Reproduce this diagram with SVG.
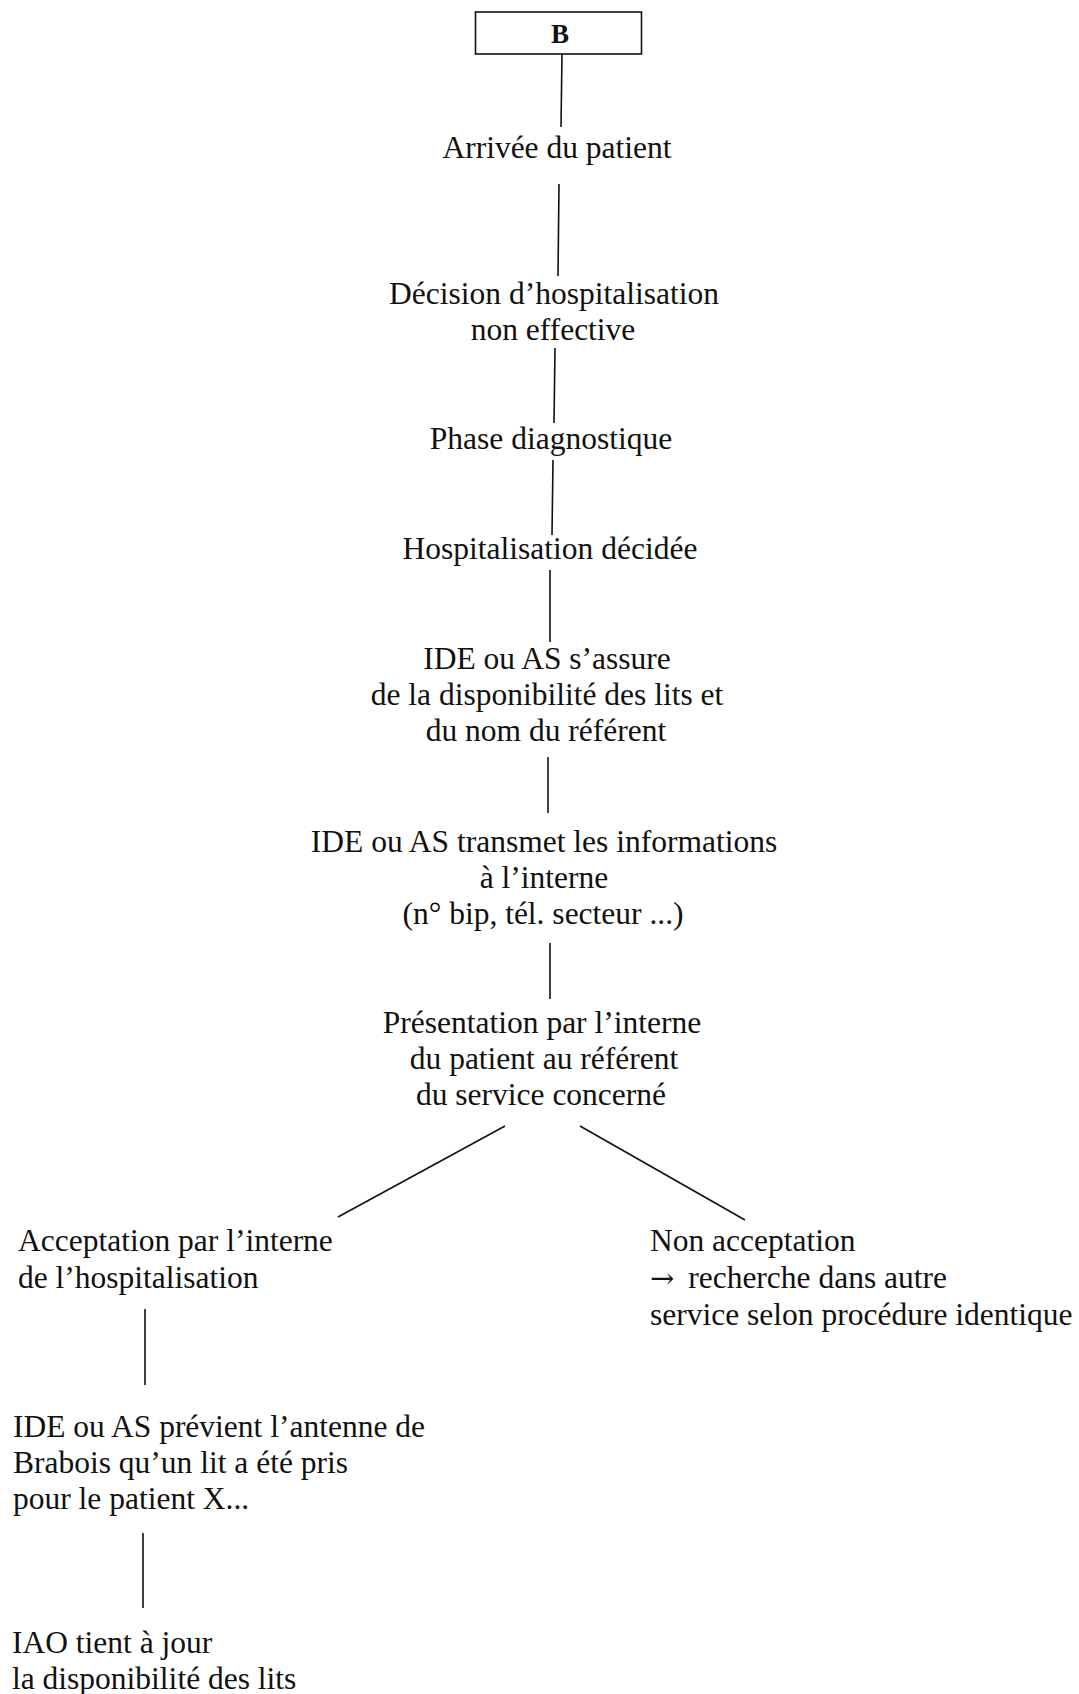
<svg xmlns="http://www.w3.org/2000/svg" width="1079" height="1694" viewBox="0 0 1079 1694">
<style>
text{font-family:"Liberation Serif","Times New Roman",serif;font-size:31.5px;fill:#111}
.c{text-anchor:middle}
.b{font-weight:bold;font-size:27px}
.ar{font-family:"DejaVu Serif",serif;font-size:29px}
line,.box{stroke:#111;stroke-width:1.6;fill:none}
</style>
<rect width="1079" height="1694" fill="#fff"/>
<g id="nB"><rect class="box" x="475.5" y="12" width="166" height="42"/><text class="c b" x="560" y="43">B</text></g>
<g id="n1"><text class="c" x="557" y="158">Arrivée du patient</text></g>
<g id="n2"><text class="c" x="554" y="304">Décision d’hospitalisation</text><text class="c" x="553" y="340">non effective</text></g>
<g id="n3"><text class="c" x="551" y="449">Phase diagnostique</text></g>
<g id="n4"><text class="c" x="550" y="559">Hospitalisation décidée</text></g>
<g id="n5"><text class="c" x="547" y="669">IDE ou AS s’assure</text><text class="c" x="547" y="705">de la disponibilité des lits et</text><text class="c" x="546" y="741">du nom du référent</text></g>
<g id="n6"><text class="c" x="544" y="852">IDE ou AS transmet les informations</text><text class="c" x="544" y="888">à l’interne</text><text class="c" x="543" y="924">(n° bip, tél. secteur ...)</text></g>
<g id="n7"><text class="c" x="542" y="1033">Présentation par l’interne</text><text class="c" x="544" y="1069">du patient au référent</text><text class="c" x="541" y="1105">du service concerné</text></g>
<g id="n8"><text x="18" y="1251">Acceptation par l’interne</text><text x="18" y="1288">de l’hospitalisation</text></g>
<g id="n9"><text x="650" y="1251">Non acceptation</text><text x="650" y="1288"><tspan class="ar">→</tspan><tspan dx="6"> recherche dans autre</tspan></text><text x="650" y="1325">service selon procédure identique</text></g>
<g id="n10"><text x="13" y="1437">IDE ou AS prévient l’antenne de</text><text x="13" y="1473">Brabois qu’un lit a été pris</text><text x="13" y="1509">pour le patient X...</text></g>
<g id="n11"><text x="12" y="1653">IAO tient à jour</text><text x="12" y="1689">la disponibilité des lits</text></g>
<g id="connectors">
<line x1="562" y1="54" x2="561" y2="127"/>
<line x1="559" y1="184" x2="558" y2="276"/>
<line x1="555" y1="348" x2="554" y2="423"/>
<line x1="553" y1="460" x2="552" y2="535"/>
<line x1="550" y1="570" x2="550" y2="642"/>
<line x1="548" y1="757" x2="548" y2="813"/>
<line x1="550" y1="943" x2="550" y2="999"/>
<line x1="505" y1="1126" x2="338" y2="1217"/>
<line x1="580" y1="1126" x2="745" y2="1220"/>
<line x1="145" y1="1309" x2="145" y2="1385"/>
<line x1="143" y1="1533" x2="143" y2="1608"/>
</g>
</svg>
